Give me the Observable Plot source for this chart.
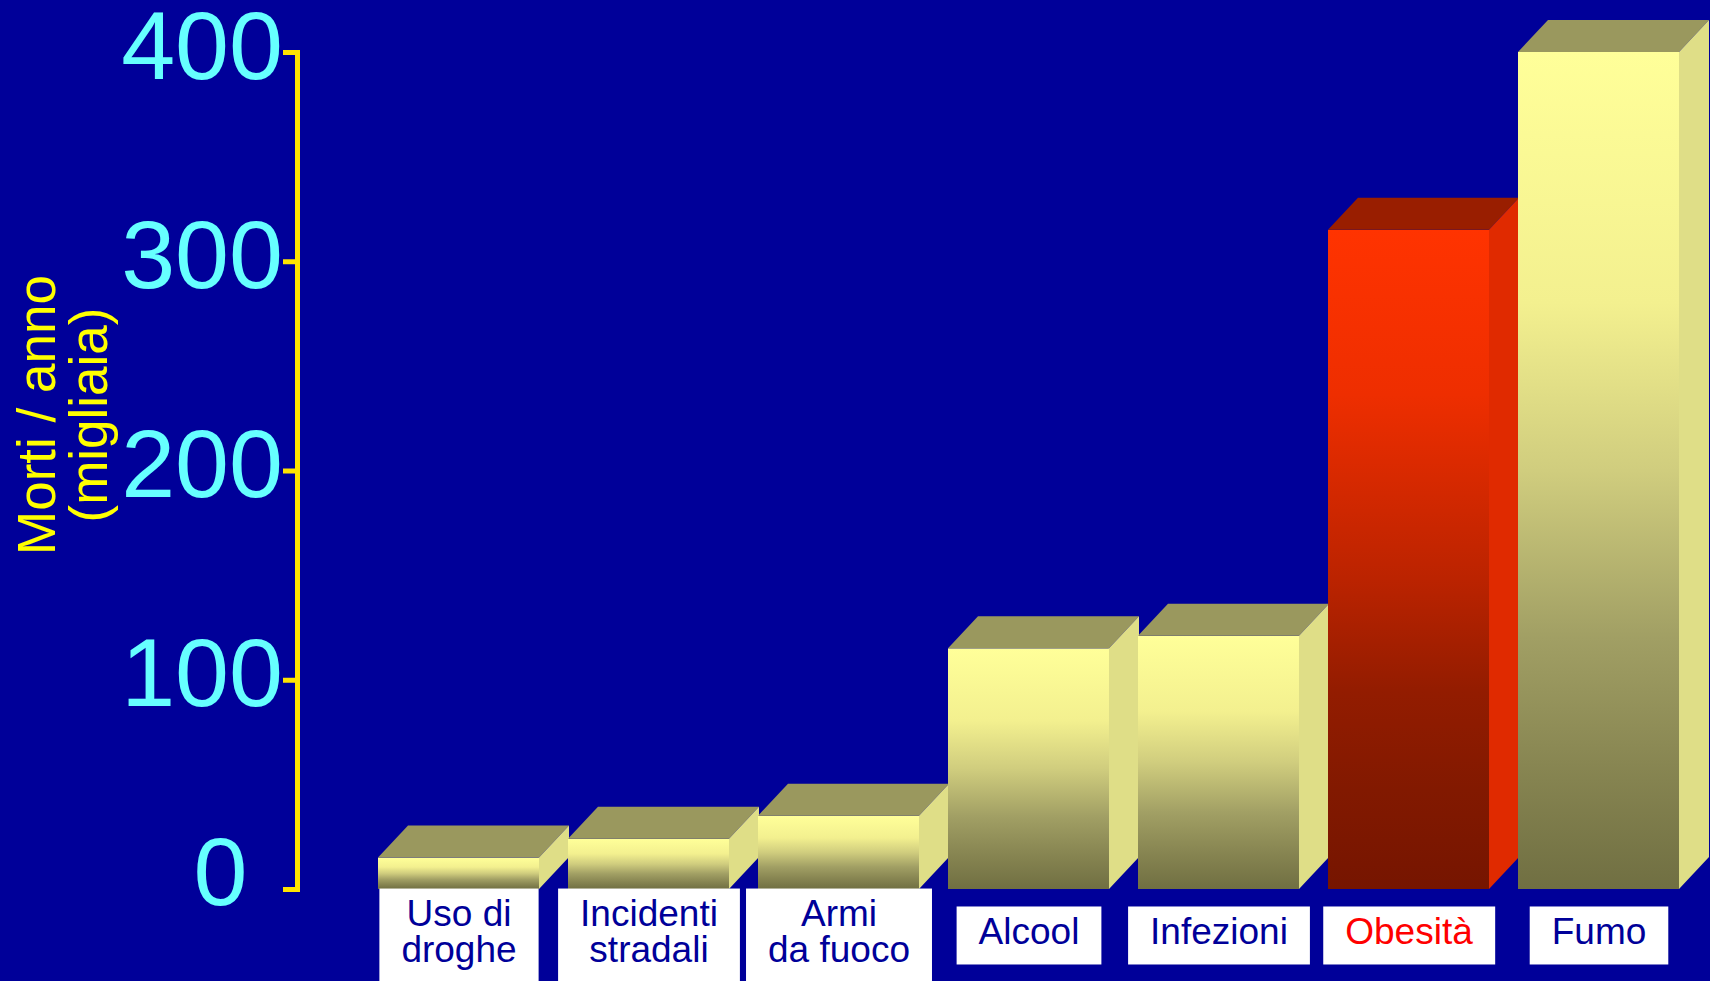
<!DOCTYPE html>
<html>
<head>
<meta charset="utf-8">
<script src="https://cdn.jsdelivr.net/npm/d3@7"></script>
<script src="https://cdn.jsdelivr.net/npm/@observablehq/plot@0.6"></script>
<style>
  html, body { margin: 0; padding: 0; background: #000099; overflow: hidden; }
  #chart svg { display: block; }
</style>
</head>
<body>
<div id="chart"></div>
<script>
// ---- data ----
const categories = ["Uso di\ndroghe", "Incidenti\nstradali", "Armi\nda fuoco", "Alcool", "Infezioni", "Obesità", "Fumo"];
const deaths = [15, 24, 35, 115, 121, 315, 400];   // migliaia di morti / anno
const highlighted = ["Obesità"];
const yTicks = [0, 100, 200, 300, 400];
const yTitle = ["Morti / anno\n(migliaia)"];

const data = categories.map((c, i) => ({category: c, value: deaths[i], hot: highlighted.includes(c)}));

// ---- style ----
const NAVY = "#000099";
const AXIS_YELLOW = "#FFE400";
const CYAN = "#66FFFF";
const DEPTH_X = 30, DEPTH_Y = 32;

const plot = Plot.plot({
  width: 1710,
  height: 981,
  marginLeft: 297,
  marginRight: 29,
  marginTop: 52,
  marginBottom: 92,
  style: {background: NAVY, fontFamily: "'Liberation Sans', Arial, sans-serif", overflow: "visible"},
  x: {type: "band", domain: categories, paddingInner: 0.152, paddingOuter: 0, insetLeft: 79, axis: null},
  y: {domain: [0, 400], axis: null},
  color: {type: "identity"},
  marks: [
    Plot.barY(data, {
      x: "category", y: "value",
      fill: d => d.hot ? "url(#grad-red)" : "url(#grad-yellow)"
    }),
    Plot.frame({anchor: "left", stroke: AXIS_YELLOW, strokeWidth: 5}),
    Plot.axisY(yTicks, {tickSize: 14, tickFormat: () => "", stroke: AXIS_YELLOW, strokeWidth: 5, label: null}),
    Plot.axisY(yTicks.filter(t => t !== 0), {tickSize: 0, tickPadding: 14.5, fontSize: 97, fill: CYAN, dy: -5, label: null}),
    Plot.axisY(yTicks.filter(t => t === 0), {tickSize: 0, tickPadding: 50, fontSize: 97, fill: CYAN, dy: -16, label: null}),
    Plot.text(yTitle, {
      frameAnchor: "left", textAnchor: "middle", lineAnchor: "middle",
      rotate: -90, fontSize: 53, lineHeight: 0.97,
      fill: "#FFFF00", dx: -233, dy: -56
    }),
    Plot.text(data, {
      x: "category", text: "category", frameAnchor: "bottom", lineAnchor: "middle", dy: 43,
      fontSize: 37, lineHeight: 0.97,
      fill: d => d.hot ? "#FF0000" : NAVY,
      ariaDescription: "category-labels"
    })
  ]
});

document.getElementById("chart").append(plot);
const svg = d3.select(plot);
const NS = "http://www.w3.org/2000/svg";

// gradients
const defs = svg.insert("defs", ":first-child");
function gradient(id, stops) {
  const g = defs.append("linearGradient").attr("id", id)
    .attr("x1", 0).attr("y1", 0).attr("x2", 0).attr("y2", 1);
  stops.forEach(([o, c]) => g.append("stop").attr("offset", o).attr("stop-color", c));
}
gradient("grad-yellow", [[0, "#FFFF99"], [0.3, "#F3F08F"], [0.5, "#D0CD7E"], [0.7, "#A19F64"], [0.85, "#888652"], [1, "#706F42"]]);
gradient("grad-red", [[0, "#FF3300"], [0.25, "#EE2E00"], [0.53, "#BB2300"], [0.7, "#931C00"], [0.85, "#821900"], [1, "#761500"]]);

// 3D faces derived from Plot's scales
try {
  const xs = plot.scale("x"), ys = plot.scale("y");
  const rects = svg.selectAll('g[aria-label="bar"] rect').nodes();
  rects.forEach((r, i) => {
    const d = data[i];
    const x0 = xs.apply(d.category), w = xs.bandwidth;
    const yT = ys.apply(d.value), yB = ys.apply(0);
    const pts = a => a.map(p => p.join(",")).join(" ");
    const top = document.createElementNS(NS, "polygon");
    top.setAttribute("points", pts([[x0, yT], [x0 + w, yT], [x0 + w + DEPTH_X, yT - DEPTH_Y], [x0 + DEPTH_X, yT - DEPTH_Y]]));
    top.setAttribute("fill", d.hot ? "#991E00" : "#9A985E");
    const side = document.createElementNS(NS, "polygon");
    side.setAttribute("points", pts([[x0 + w, yT], [x0 + w + DEPTH_X, yT - DEPTH_Y], [x0 + w + DEPTH_X, yB - DEPTH_Y], [x0 + w, yB]]));
    side.setAttribute("fill", d.hot ? "#E02A00" : "#DFDE87");
    r.parentNode.insertBefore(side, r.nextSibling);
    r.parentNode.insertBefore(top, r.nextSibling);
  });
} catch (e) { console.error(e); }

// white boxes behind category labels
let labelGroup = svg.select('g[aria-description="category-labels"]');
if (labelGroup.empty()) {
  const groups = svg.selectAll('g[aria-label="text"]').nodes();
  labelGroup = d3.select(groups[groups.length - 1]);
}
labelGroup.selectAll("text").each(function () {
  const b = this.getBBox();
  const rect = document.createElementNS(NS, "rect");
  rect.setAttribute("x", b.x - 22);
  rect.setAttribute("y", b.y - 4.5);
  rect.setAttribute("width", b.width + 44);
  rect.setAttribute("height", b.height + 17);
  rect.setAttribute("fill", "#FFFFFF");
  const t = this.getAttribute("transform");
  if (t) rect.setAttribute("transform", t);
  this.parentNode.insertBefore(rect, this);
});
</script>
</body>
</html>
